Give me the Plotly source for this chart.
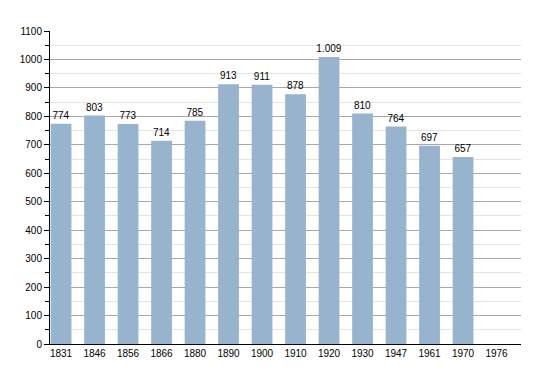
import plotly.graph_objects as go

years = ["1831", "1846", "1856", "1866", "1880", "1890", "1900", "1910", "1920", "1930", "1947", "1961", "1970", "1976"]
population = [774, 803, 773, 714, 785, 913, 911, 878, 1009, 810, 764, 697, 657, None]
labels = ["774", "803", "773", "714", "785", "913", "911", "878", "1.009", "810", "764", "697", "657", ""]

FONT = "Liberation Sans, Arial"

fig = go.Figure(go.Bar(
    x=years, y=population, text=labels, textposition="outside",
    textfont=dict(family=FONT, size=10, color="#000"),
    marker=dict(color="#98B3CE", line=dict(width=0)),
    width=0.62, cliponaxis=False, constraintext="none",
))

fig.update_layout(
    width=542, height=365,
    margin=dict(l=42, r=29, t=23, b=29, autoexpand=False),
    plot_bgcolor="white", paper_bgcolor="white",
    showlegend=False,
    font=dict(family=FONT, size=10, color="#000"),
    uniformtext=dict(minsize=10, mode="show"),
)
fig.update_xaxes(
    type="category", range=[-0.33, 13.73], automargin=False,
    showline=True, linecolor="#000", linewidth=1,
    ticks="", showgrid=False, tickfont=dict(size=10),
)
fig.update_yaxes(
    range=[0, 1100], dtick=100, tick0=0, automargin=False,
    showline=True, linecolor="#000", linewidth=1,
    ticks="outside", ticklen=5, tickcolor="#000",
    showgrid=True, gridcolor="#a8a8a8", gridwidth=1,
    zeroline=False,
    minor=dict(dtick=50, ticks="outside", ticklen=4, tickcolor="#000",
               showgrid=True, gridcolor="#e4e4e4"),
    tickfont=dict(size=10),
)

fig.write_html("out.html")
